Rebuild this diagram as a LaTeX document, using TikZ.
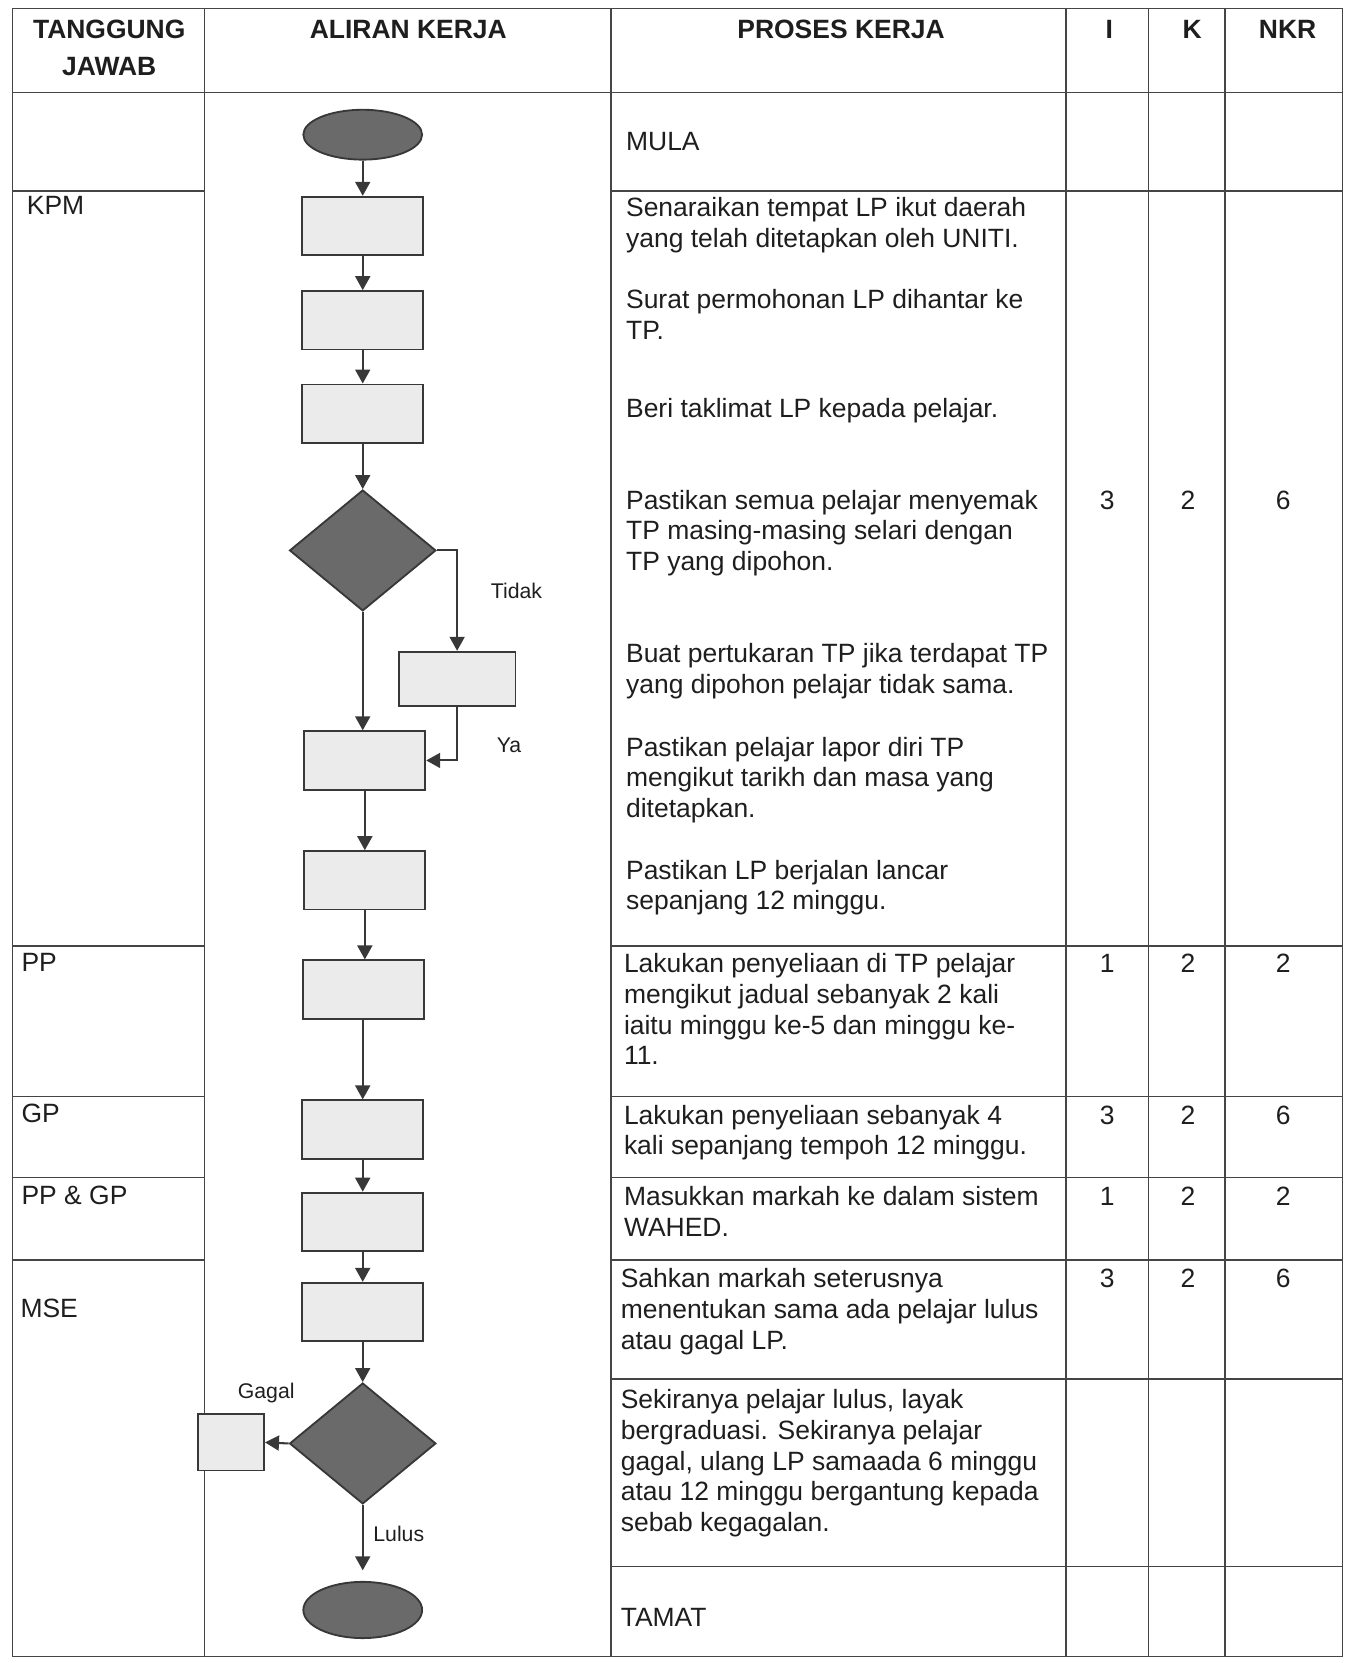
\documentclass[tikz,border=0pt]{standalone}
\usepackage{fontspec}
\setmainfont{Liberation Sans}
\usetikzlibrary{arrows.meta, positioning, shapes.geometric, calc}
\definecolor{ink}{HTML}{1E1E1E}
\definecolor{rule}{HTML}{454545}
\definecolor{dark}{HTML}{6A6A6A}
\definecolor{pale}{HTML}{EBEBEB}
\definecolor{edge}{HTML}{383838}

\begin{document}
\begin{tikzpicture}[x=0.02cm, y=-0.02cm,
    every node/.style={font=\fontsize{14.2}{16.5}\selectfont, text=ink, inner sep=0pt},
    grid/.style={draw=rule, line width=0.8pt},
    head/.style={font=\fontsize{14.2}{19.9}\selectfont\bfseries, anchor=base, align=center},
    cell/.style={anchor=base west, align=left},
    num/.style={anchor=base},
    tag/.style={font=\fontsize{11.4}{13}\selectfont},
    stepbox/.style={draw=edge, line width=1pt, fill=pale, minimum width=2.28cm, minimum height=1.1cm},
    decide/.style={diamond, draw=edge, line width=1pt, fill=dark, minimum width=2.76cm, minimum height=2.28cm},
    term/.style={ellipse, draw=edge, line width=1pt, fill=dark, minimum width=2.24cm},
    flow/.style={draw=edge, line width=1.1pt, -{Triangle[length=7.5pt, width=8pt]}}]
  \useasboundingbox (0,0) rectangle (1270,1568);

  % table
  \draw[grid] (12,8) rectangle (1266,1562);
  \foreach \x in {193,576,1005,1083,1155}
    \draw[grid] (\x,8) -- (\x,1562);
  \draw[grid] (12,87) -- (1266,87);
  \foreach \y in {180,892,1034,1110,1188}
    \draw[grid] (12,\y) -- (193,\y);
  \foreach \y in {180,892,1034,1110,1188,1300,1477}
    \draw[grid] (576,\y) -- (1266,\y);

  % header (base = last line)
  \node[head] (hTJ) at (103,71) {TANGGUNG\\JAWAB};
  \node[head] (hAK) at (385,36) {ALIRAN KERJA};
  \node[head] (hPK) at (793,36) {PROSES KERJA};
  \node[head] (hI) at (1046,36) {I};
  \node[head] (hK) at (1124,36) {K};
  \node[head] (hN) at (1214,36) {NKR};

  % tanggung jawab
  \node[cell] (tKPM) at (25,202) {KPM};
  \node[cell] (tPP) at (20,916) {PP};
  \node[cell] (tGP) at (20,1058) {GP};
  \node[cell] (tPPGP) at (20,1136) {PP \& GP};
  \node[cell] (tMSE) at (19,1242) {MSE};

  % proses kerja (base = last line)
  \node[cell] (pMula) at (590,142) {MULA};
  \node[cell] (pList) at (590,233) {Senaraikan tempat LP ikut daerah\\yang telah ditetapkan oleh UNITI.};
  \node[cell] (pSurat) at (590,320) {Surat permohonan LP dihantar ke\\TP.};
  \node[cell] (pBrief) at (590,394) {Beri taklimat LP kepada pelajar.};
  \node[cell] (pCheck) at (590,538) {Pastikan semua pelajar menyemak\\TP masing-masing selari dengan\\TP yang dipohon.};
  \node[cell] (pSwap) at (590,654) {Buat pertukaran TP jika terdapat TP\\yang dipohon pelajar tidak sama.};
  \node[cell] (pLapor) at (590,771) {Pastikan pelajar lapor diri TP\\mengikut tarikh dan masa yang\\ditetapkan.};
  \node[cell] (pLancar) at (590,858) {Pastikan LP berjalan lancar\\sepanjang 12 minggu.};
  \node[cell] (pSelia) at (588,1004) {Lakukan penyeliaan di TP pelajar\\mengikut jadual sebanyak 2 kali\\iaitu minggu ke-5 dan minggu ke-\\11.};
  \node[cell] (pSelia4) at (588,1089) {Lakukan penyeliaan sebanyak 4\\kali sepanjang tempoh 12 minggu.};
  \node[cell] (pMarkah) at (588,1166) {Masukkan markah ke dalam sistem\\WAHED.};
  \node[cell] (pSah) at (585,1272) {Sahkan markah seterusnya\\menentukan sama ada pelajar lulus\\atau gagal LP.};
  \node[cell] (pKeputusan) at (585,1444) {Sekiranya pelajar lulus, layak\\bergraduasi. Sekiranya pelajar\\gagal, ulang LP samaada 6 minggu\\atau 12 minggu bergantung kepada\\sebab kegagalan.};
  \node[cell] (pTamat) at (585,1534) {TAMAT};

  % I, K, NKR
  \foreach \y/\vi/\vk/\vn [count=\r] in {480/3/2/6, 917/1/2/2, 1060/3/2/6, 1137/1/2/2, 1214/3/2/6} {
    \node[num] (i\r) at (1044,\y) {\vi};
    \node[num] (k\r) at (1120,\y) {\vk};
    \node[num] (n\r) at (1210,\y) {\vn};
  }

  % aliran kerja
  \node[term, minimum height=0.94cm] (mula) at (342,127) {};
  \node[stepbox] (b1) at (342,213) {};
  \node[stepbox] (b2) at (342,302) {};
  \node[stepbox] (b3) at (342,390) {};
  \node[decide] (d1) at (342,519) {};
  \node[stepbox, minimum width=2.2cm, minimum height=1.02cm] (b4) at (431,640) {};
  \node[stepbox] (b5) at (344,717) {};
  \node[stepbox] (b6) at (344,830) {};
  \node[stepbox] (b7) at (343,933) {};
  \node[stepbox] (b8) at (342,1065) {};
  \node[stepbox] (b9) at (342,1152) {};
  \node[stepbox] (b10) at (342,1237) {};
  \node[decide] (d2) at (342,1361) {};
  \node[stepbox, minimum width=1.24cm, minimum height=1.06cm] (gagal) at (218,1360) {};
  \node[term, minimum height=1.06cm] (tamat) at (342,1518) {};

  \draw[flow] (mula) -- (b1);
  \draw[flow] (b1) -- (b2);
  \draw[flow] (b2) -- (b3);
  \draw[flow] (b3) -- (d1);
  \draw[flow] (d1.east) -| (b4.north);
  \draw[flow] (b4.south) |- (b5.east);
  \draw[flow] (d1.south) -- (d1.south |- b5.north);
  \draw[flow] (b5.south -| b6.north) -- (b6);
  \draw[flow] (b6) -- (b6.south |- b7.north);
  \draw[flow] (b7.south -| b8.north) -- (b8);
  \draw[flow] (b8) -- (b9);
  \draw[flow] (b9) -- (b10);
  \draw[flow] (b10) -- (d2);
  \draw[flow] (d2.west) -- (gagal.east);
  \draw[flow, shorten >=0.2cm] (d2.south) -- (tamat.north);

  \node[tag] (lTidak) at (487,557) {Tidak};
  \node[tag] (lYa) at (480,703) {Ya};
  \node[tag] (lGagal) at (251,1313) {Gagal};
  \node[tag] (lLulus) at (376,1446) {Lulus};
\end{tikzpicture}
\end{document}
